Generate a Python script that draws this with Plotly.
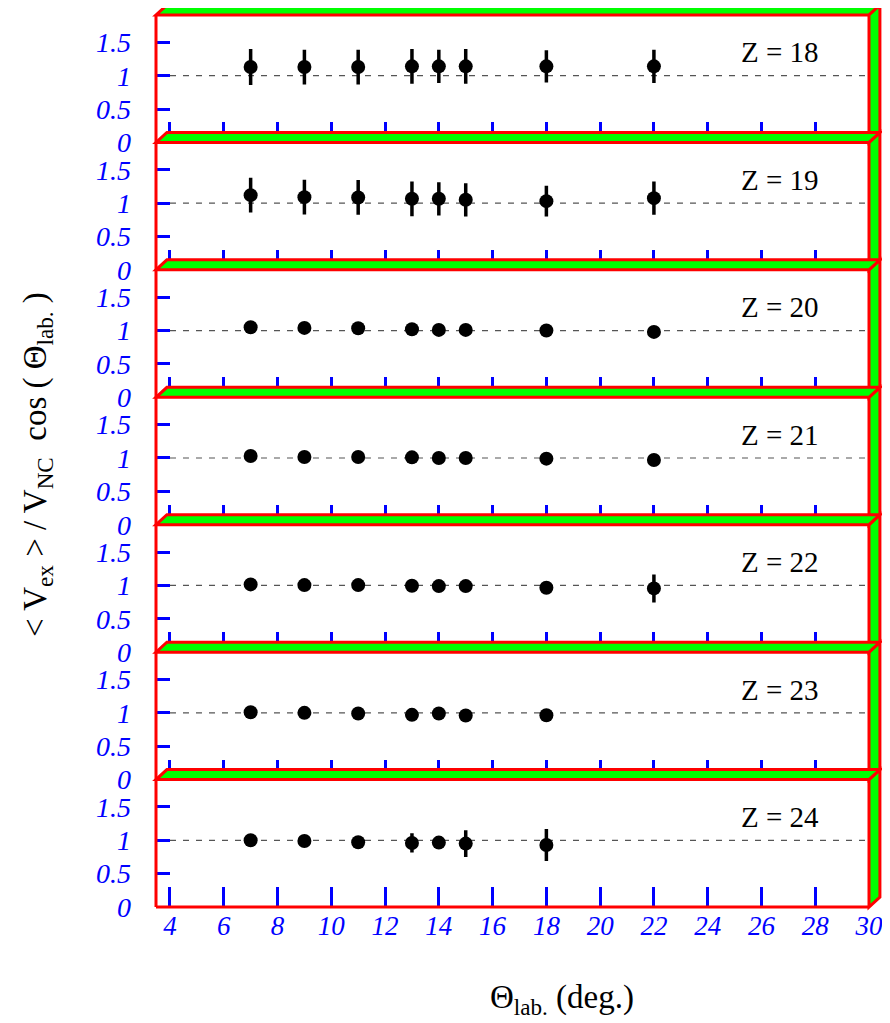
import plotly.graph_objects as go
from plotly.subplots import make_subplots

# scattering angle (deg.) and ratio <Vex>/VNC cos(theta) for each element
z_values = [18, 19, 20, 21, 22, 23, 24]
theta_long = [7, 9, 11, 13, 14, 15, 18, 22]
theta_short = [7, 9, 11, 13, 14, 15, 18]

ratio_z18 = [1.13, 1.13, 1.13, 1.14, 1.14, 1.14, 1.14, 1.14]
err_z18 = [0.27, 0.26, 0.26, 0.26, 0.25, 0.26, 0.24, 0.25]
ratio_z19 = [1.12, 1.09, 1.085, 1.065, 1.065, 1.05, 1.03, 1.075]
err_z19 = [0.26, 0.26, 0.26, 0.26, 0.25, 0.25, 0.23, 0.25]
ratio_z20 = [1.05, 1.04, 1.035, 1.02, 1.01, 1.01, 1.0, 0.98]
err_z20 = [0.03, 0.03, 0.03, 0.03, 0.03, 0.03, 0.03, 0.03]
ratio_z21 = [1.03, 1.015, 1.015, 1.01, 1.0, 1.0, 0.99, 0.97]
err_z21 = [0.03, 0.03, 0.03, 0.03, 0.03, 0.03, 0.03, 0.03]
ratio_z22 = [1.015, 1.005, 1.005, 0.995, 0.99, 0.99, 0.965, 0.955]
err_z22 = [0.03, 0.03, 0.03, 0.03, 0.03, 0.03, 0.03, 0.21]
ratio_z23 = [1.01, 1.0, 0.99, 0.97, 0.99, 0.96, 0.965]
err_z23 = [0.03, 0.03, 0.03, 0.03, 0.03, 0.03, 0.03]
ratio_z24 = [1.0, 0.99, 0.97, 0.96, 0.965, 0.95, 0.93]
err_z24 = [0.03, 0.03, 0.03, 0.145, 0.03, 0.2, 0.24]

x_ticks = list(range(4, 31, 2))
y_ticks = [0, 0.5, 1, 1.5]
y_ticktext = ["0", "0.5", "1", "1.5"]

panels = [
    (theta_long, ratio_z18, err_z18),
    (theta_long, ratio_z19, err_z19),
    (theta_long, ratio_z20, err_z20),
    (theta_long, ratio_z21, err_z21),
    (theta_long, ratio_z22, err_z22),
    (theta_short, ratio_z23, err_z23),
    (theta_short, ratio_z24, err_z24),
]

# page body has an 8px margin, so the figure is drawn 8px in from the corner
OFF = 8
W, H = 890 - OFF, 1023 - OFF
ML, MT = 156 - OFF, 15 - OFF
MR, MB = 15, 116
PW = W - ML - MR
PH = H - MT - MB
n = len(panels)

BLUE = "#0000ff"
RED = "#ff0000"
GREEN = "#00ff00"
SERIF = "Liberation Serif, Times New Roman, DejaVu Serif, serif"

fig = make_subplots(rows=n, cols=1, shared_xaxes=True, vertical_spacing=0)

for i, (xs, ys, es) in enumerate(panels):
    row = i + 1
    fig.add_trace(go.Scatter(
        x=xs, y=ys, mode="markers",
        marker=dict(size=14, color="black"),
        error_y=dict(type="data", array=es, thickness=3.5, width=0, color="black"),
        showlegend=False), row=row, col=1)
    # reference line at 1
    fig.add_shape(type="line", x0=4, x1=30, y0=1, y1=1, layer="below",
                  line=dict(color="#555555", width=1.2, dash="6px,7px"),
                  row=row, col=1)
    fig.add_annotation(x=26.7, y=1.35, text="Z = %d" % z_values[i], showarrow=False,
                       xanchor="center", yanchor="middle",
                       font=dict(family=SERIF, size=29, color="black"),
                       xref="x%s" % ("" if row == 1 else row),
                       yref="y%s" % ("" if row == 1 else row))
    fig.update_yaxes(range=[0, 1.91], tickvals=y_ticks, ticktext=y_ticktext,
                     ticks="inside", ticklen=14, tickwidth=3, tickcolor=BLUE,
                     tickfont=dict(family=SERIF, size=28, color=BLUE, style="italic"),
                     ticklabelstandoff=24, showgrid=False, zeroline=False,
                     showline=False, row=row, col=1)
    fig.update_xaxes(range=[3.48, 30], tickvals=x_ticks, ticks="inside",
                     ticklen=20, tickwidth=3, tickcolor=BLUE,
                     showticklabels=(row == n),
                     tickfont=dict(family=SERIF, size=27, color=BLUE, style="italic"),
                     showgrid=False, zeroline=False, showline=False,
                     row=row, col=1)

# 3D style frame (paper coordinates)
dx = 11.0 / PW
dy = 10.0 / PH
frame = dict(fillcolor=GREEN, line=dict(color=RED, width=3), layer="above",
             xref="paper", yref="paper")


def quad(pts):
    return "M " + " L ".join("%.5f,%.5f" % p for p in pts) + " Z"


fig.add_shape(type="path", path=quad([(0, 1), (1, 1), (1 + dx, 1 + dy), (dx, 1 + dy)]), **frame)
for i in range(n):
    top = 1 - i / n
    bot = 1 - (i + 1) / n
    fig.add_shape(type="path",
                  path=quad([(1, top), (1 + dx, top + dy), (1 + dx, bot + dy), (1, bot)]),
                  **frame)
for i in range(n - 1):
    bot = 1 - (i + 1) / n
    fig.add_shape(type="path",
                  path=quad([(0, bot), (1, bot), (1 + dx, bot + dy), (dx, bot + dy)]),
                  **frame)
fig.add_shape(type="line", x0=0, x1=0, y0=0, y1=1, xref="paper", yref="paper",
              layer="above", line=dict(color=RED, width=3))
fig.add_shape(type="line", x0=0, x1=1, y0=0, y1=0, xref="paper", yref="paper",
              layer="above", line=dict(color=RED, width=3))


def paper_x(px):
    return (px - OFF - ML) / PW


def paper_y(py):
    return (H - MB - (py - OFF)) / PH


# axis titles
fig.add_annotation(x=paper_x(36), y=paper_y(465), xref="paper", yref="paper",
                   xanchor="center", yanchor="middle",
                   text="&lt; V<sub>ex</sub> &gt; / V<sub>NC</sub>&nbsp; cos ( \u0398<sub>lab.</sub> )",
                   textangle=-90, showarrow=False,
                   font=dict(family=SERIF, size=33, color="black"))
fig.add_annotation(x=paper_x(565), y=paper_y(1000), xref="paper", yref="paper",
                   xanchor="center", yanchor="middle",
                   text="\u0398<sub>lab.</sub> (deg.)", showarrow=False,
                   font=dict(family=SERIF, size=33, color="black"))

fig.update_layout(width=W, height=H, margin=dict(l=ML, r=MR, t=MT, b=MB),
                  plot_bgcolor="white", paper_bgcolor="white", showlegend=False)

fig.write_html("out.html")
